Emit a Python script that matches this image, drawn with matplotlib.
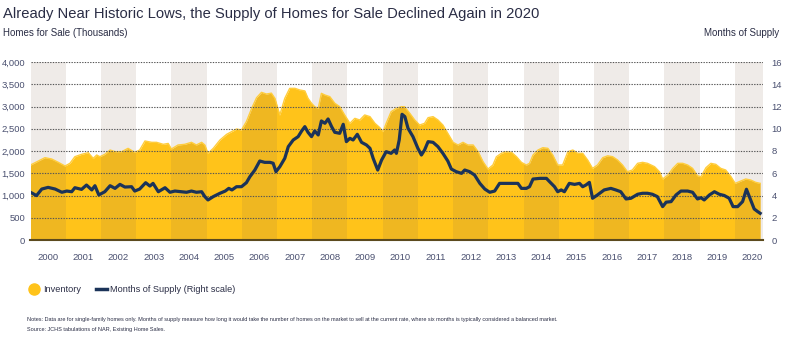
"""Homes for sale vs months of supply, 2000-2020"""
import matplotlib
matplotlib.use("Agg")
import matplotlib.pyplot as plt
from matplotlib.lines import Line2D

# Inventory (thousands) at decimal-year positions
inv_year = [2000.0, 2000.22, 2000.41, 2000.6, 2000.79, 2000.98, 2001.12, 2001.26, 2001.45,
            2001.64, 2001.78, 2001.88, 2001.97, 2002.11, 2002.26, 2002.4, 2002.59, 2002.77,
            2002.96, 2003.1, 2003.25, 2003.44, 2003.58, 2003.77, 2003.91, 2004.0, 2004.19,
            2004.38, 2004.57, 2004.71, 2004.86, 2004.95, 2005.04, 2005.19, 2005.38, 2005.57,
            2005.75, 2005.85, 2005.99, 2006.13, 2006.28, 2006.42, 2006.56, 2006.7, 2006.84,
            2006.94, 2007.08, 2007.22, 2007.36, 2007.51, 2007.65, 2007.79, 2007.88, 2007.98,
            2008.07, 2008.17, 2008.26, 2008.36, 2008.5, 2008.64, 2008.78, 2008.92, 2009.07,
            2009.21, 2009.35, 2009.49, 2009.64, 2009.78, 2009.92, 2010.01, 2010.1, 2010.24,
            2010.39, 2010.53, 2010.62, 2010.77, 2010.91, 2011.05, 2011.19, 2011.29, 2011.43,
            2011.57, 2011.71, 2011.85, 2012.0, 2012.14, 2012.28, 2012.42, 2012.57, 2012.71,
            2012.85, 2012.99, 2013.13, 2013.23, 2013.37, 2013.51, 2013.66, 2013.8, 2013.94,
            2014.08, 2014.17, 2014.27, 2014.41, 2014.55, 2014.69, 2014.83, 2014.97, 2015.11,
            2015.26, 2015.4, 2015.54, 2015.68, 2015.82, 2015.96, 2016.1, 2016.25, 2016.39,
            2016.53, 2016.67, 2016.81, 2016.95, 2017.09, 2017.24, 2017.38, 2017.52, 2017.72,
            2017.86, 2017.95, 2018.1, 2018.24, 2018.38, 2018.52, 2018.66, 2018.8, 2018.94,
            2019.04, 2019.18, 2019.32, 2019.46, 2019.6, 2019.74, 2019.89, 2020.01, 2020.17,
            2020.31, 2020.45, 2020.59, 2020.72]
inventory = [1685, 1775, 1850, 1820, 1745, 1663, 1723, 1872, 1925,
             1962, 1835, 1910, 1872, 1925, 2022, 1985, 1985, 2060,
             1970, 2022, 2225, 2195, 2195, 2150, 2170, 2045, 2135,
             2150, 2195, 2135, 2195, 2135, 1948, 2060, 2247, 2375,
             2450, 2494, 2472, 2660, 2958, 3198, 3318, 3280, 3300,
             3183, 2810, 3183, 3408, 3408, 3370, 3350, 3183, 3073,
             2996, 2958, 3296, 3258, 3221, 3073, 2996, 2810, 2622,
             2734, 2697, 2810, 2772, 2622, 2524, 2434, 2622, 2884,
             2958, 2996, 2996, 2847, 2697, 2584, 2622, 2749, 2772,
             2697, 2584, 2397, 2195, 2135, 2195, 2135, 2135, 1985,
             1760, 1595, 1685, 1872, 1948, 1985, 1970, 1872, 1745,
             1685, 1723, 1910, 2022, 2075, 2060, 1910, 1685, 1685,
             1985, 2022, 1948, 1948, 1798, 1610, 1685, 1850, 1892,
             1872, 1798, 1685, 1535, 1573, 1723, 1745, 1723, 1648,
             1535, 1371, 1460, 1610, 1723, 1723, 1685, 1610, 1445,
             1423, 1625, 1723, 1700, 1610, 1573, 1423, 1273, 1326,
             1371, 1348, 1296, 1273]

# Months of supply (right scale)
mos_year = [2000.0, 2000.17, 2000.32, 2000.5, 2000.7, 2000.89, 2001.03, 2001.17, 2001.26,
            2001.45, 2001.59, 2001.74, 2001.83, 2001.94, 2002.11, 2002.26, 2002.4, 2002.54,
            2002.68, 2002.87, 2002.96, 2003.1, 2003.27, 2003.39, 2003.48, 2003.63, 2003.82,
            2003.96, 2004.1, 2004.29, 2004.43, 2004.57, 2004.71, 2004.86, 2004.95, 2005.04,
            2005.19, 2005.38, 2005.53, 2005.63, 2005.72, 2005.85, 2005.99, 2006.13, 2006.23,
            2006.37, 2006.51, 2006.65, 2006.8, 2006.89, 2006.97, 2007.08, 2007.22, 2007.32,
            2007.46, 2007.6, 2007.7, 2007.79, 2007.88, 2007.98, 2008.07, 2008.17, 2008.26,
            2008.36, 2008.45, 2008.55, 2008.64, 2008.78, 2008.88, 2008.97, 2009.07, 2009.16,
            2009.28, 2009.4, 2009.54, 2009.64, 2009.73, 2009.86, 2009.97, 2010.1, 2010.24,
            2010.34, 2010.39, 2010.47, 2010.55, 2010.63, 2010.72, 2010.86, 2011.0, 2011.1,
            2011.19, 2011.29, 2011.43, 2011.57, 2011.71, 2011.85, 2011.95, 2012.09, 2012.24,
            2012.33, 2012.47, 2012.61, 2012.76, 2012.9, 2013.04, 2013.18, 2013.32, 2013.51,
            2013.7, 2013.84, 2013.94, 2014.08, 2014.17, 2014.27, 2014.46, 2014.65, 2014.74,
            2014.88, 2014.97, 2015.07, 2015.16, 2015.3, 2015.45, 2015.59, 2015.68, 2015.77,
            2015.87, 2015.96, 2016.1, 2016.29, 2016.48, 2016.62, 2016.76, 2016.91, 2017.05,
            2017.24, 2017.38, 2017.52, 2017.66, 2017.8, 2017.95, 2018.05, 2018.19, 2018.33,
            2018.47, 2018.66, 2018.8, 2018.94, 2019.04, 2019.13, 2019.28, 2019.42, 2019.56,
            2019.7, 2019.84, 2019.95, 2020.08, 2020.22, 2020.33, 2020.43, 2020.55, 2020.65,
            2020.72]
months_supply = [4.29, 3.99, 4.58, 4.73, 4.58, 4.29, 4.40, 4.34, 4.70,
                 4.55, 4.94, 4.50, 4.88, 4.05, 4.34, 4.88, 4.64, 5.00,
                 4.76, 4.79, 4.40, 4.58, 5.15, 4.85, 5.09, 4.34, 4.70,
                 4.29, 4.40, 4.34, 4.29, 4.40, 4.29, 4.34, 3.90, 3.60,
                 3.90, 4.20, 4.40, 4.64, 4.50, 4.79, 4.79, 5.15, 5.69,
                 6.29, 7.10, 6.98, 6.98, 6.90, 6.14, 6.59, 7.34, 8.39,
                 8.99, 9.29, 9.80, 10.19, 9.68, 9.29, 9.80, 9.44, 10.70,
                 10.49, 10.88, 10.19, 9.68, 9.59, 10.40, 8.84, 9.14, 8.99,
                 9.50, 8.78, 8.54, 8.24, 7.34, 6.29, 7.19, 7.94, 7.79,
                 8.09, 7.79, 8.99, 11.30, 11.09, 10.04, 9.29, 8.24, 7.64,
                 8.09, 8.84, 8.78, 8.39, 7.79, 7.10, 6.38, 6.14, 5.99,
                 6.29, 6.14, 5.84, 5.09, 4.58, 4.29, 4.40, 5.09, 5.09,
                 5.09, 5.09, 4.64, 4.64, 4.79, 5.48, 5.54, 5.54, 5.24,
                 4.79, 4.34, 4.50, 4.34, 5.09, 5.00, 5.09, 4.79, 4.94,
                 5.18, 3.75, 4.05, 4.50, 4.64, 4.50, 4.34, 3.69, 3.75,
                 4.11, 4.20, 4.20, 4.11, 3.90, 3.00, 3.40, 3.45, 4.05,
                 4.40, 4.40, 4.29, 3.69, 3.80, 3.60, 4.05, 4.34, 4.11,
                 4.00, 3.75, 3.00, 3.00, 3.45, 4.56, 3.75, 2.79, 2.55,
                 2.40]

years = list(range(2000, 2021))
left_ticks = [0, 500, 1000, 1500, 2000, 2500, 3000, 3500, 4000]
right_ticks = [0, 2, 4, 6, 8, 10, 12, 14, 16]

TITLE_C = "#2a2d45"
LABEL_C = "#4a5070"
GOLD = "#ffc31a"
NAVY = "#1b3359"
FONT = ["Liberation Sans", "DejaVu Sans"]

W, H = 787, 338
fig = plt.figure(figsize=(W / 100, H / 100), dpi=100)
ax = fig.add_axes([30.5 / W, 98 / H, 732.5 / W, 178 / H])

ax.fill_between(inv_year, inventory, 0, color=GOLD, lw=0, zorder=1)
# alternating year bands: grey over white, darker gold over the fill
for y in years:
    if y % 2 == 0:
        ax.axvspan(y, y + 1, color="#876b52", alpha=0.13, lw=0, zorder=2)
# slightly lighter rim along the top of the area
ax.plot(inv_year, inventory, color="#ffcd3c", lw=1.0, zorder=2.2)

ax.set_xlim(2000, 2020.8)
ax.set_ylim(0, 4000)
ax.set_yticks(left_ticks)
ax.set_yticklabels([f"{v:,}" for v in left_ticks], family=FONT, fontsize=6.8, color=LABEL_C)
ax.set_xticks([y + 0.5 for y in years])
ax.set_xticklabels([str(y) for y in years], family=FONT, fontsize=6.8, color=LABEL_C)
ax.tick_params(axis="both", length=0)
ax.tick_params(axis="y", pad=4)
ax.tick_params(axis="x", pad=9)
ax.set_axisbelow(False)
ax.yaxis.grid(True, linestyle=(0, (1.2, 1.2)), color="#555555", lw=0.8)
ax.xaxis.grid(False)
for s in ["top", "left", "right"]:
    ax.spines[s].set_visible(False)
ax.spines["bottom"].set_color("#5c4a1e")
ax.spines["bottom"].set_linewidth(1.5)
ax.spines["bottom"].set_zorder(4)

ax2 = ax.twinx()
ax2.plot(mos_year, months_supply, color=NAVY, lw=2.3, solid_joinstyle="round")
ax2.set_ylim(0, 16)
ax2.set_yticks(right_ticks)
ax2.set_yticklabels([str(v) for v in right_ticks], family=FONT, fontsize=6.8, color=LABEL_C)
ax2.tick_params(axis="y", length=0, pad=6)
for s in ax2.spines.values():
    s.set_visible(False)

fig.text(3 / W, 1 - 14 / H, "Already Near Historic Lows, the Supply of Homes for Sale Declined Again in 2020",
         fontsize=10.6, color=TITLE_C, family=FONT, va="center", ha="left")
fig.text(3 / W, 1 - 33 / H, "Homes for Sale (Thousands)", fontsize=7, color=TITLE_C,
         family=FONT, va="center", ha="left")
fig.text(779 / W, 1 - 33 / H, "Months of Supply", fontsize=7, color=TITLE_C,
         family=FONT, va="center", ha="right")

handles = [Line2D([], [], marker="o", ls="none", color=GOLD, markersize=8),
           Line2D([], [], color=NAVY, lw=2.5)]
fig.legend(handles, ["Inventory", "Months of Supply (Right scale)"], loc="center left",
           bbox_to_anchor=(20 / W, 1 - 290 / H), ncol=2, frameon=False, handlelength=1.2,
           handletextpad=0.4, columnspacing=1.6, prop={"family": FONT, "size": 6.6},
           labelcolor=TITLE_C)

fig.text(27 / W, 1 - 319 / H,
         "Notes: Data are for single-family homes only. Months of supply measure how long it would take the number "
         "of homes on the market to sell at the current rate, where six months is typically considered a balanced market.",
         fontsize=4.0, color=TITLE_C, family=FONT, va="center", ha="left")
fig.text(27 / W, 1 - 329 / H, "Source: JCHS tabulations of NAR, Existing Home Sales.",
         fontsize=4.0, color=TITLE_C, family=FONT, va="center", ha="left")

fig.savefig("out.png", dpi=100)
